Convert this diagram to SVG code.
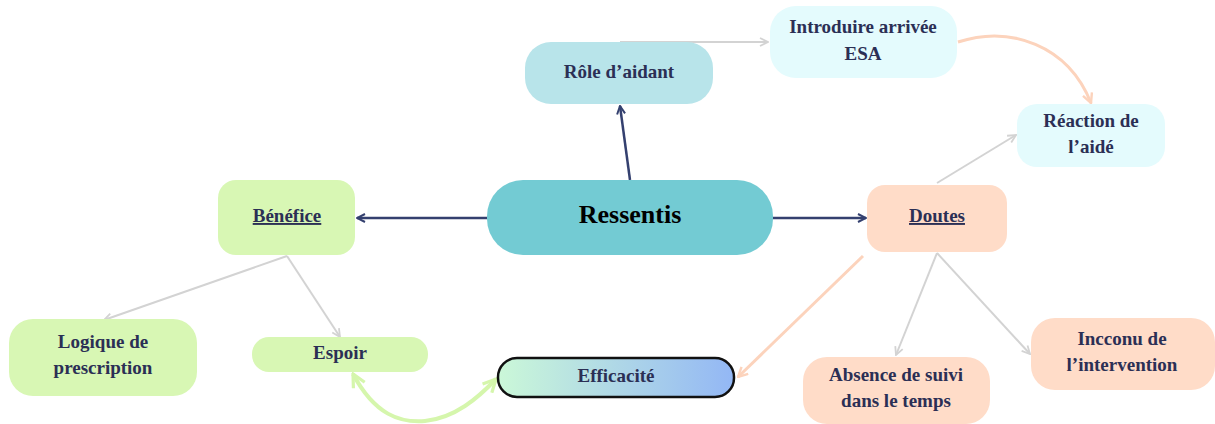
<svg xmlns="http://www.w3.org/2000/svg" width="1215" height="424" viewBox="0 0 1215 424">
<style>
text{font-family:"Liberation Serif","Times New Roman",serif;font-weight:bold;font-size:19px;fill:#2B2F55;text-anchor:middle}
.big{font-size:26px;fill:#000}
.u{text-decoration:underline}
.navy{stroke:#34406F;stroke-width:2.5;fill:none}
.gray{stroke:#D3D3D3;stroke-width:2;fill:none}
.peach{stroke:#FCD3BC;stroke-width:3;fill:none}
.green{stroke:#D5F6AC;stroke-width:4;fill:none}
.cyan{fill:#E4FBFD}
.grn{fill:#D8F7B4}
.pch{fill:#FFDCC8}
</style>
<defs>
<marker id="aN" viewBox="0 0 10 10" refX="9" refY="5" markerWidth="4" markerHeight="4" orient="auto-start-reverse" markerUnits="strokeWidth"><path d="M1,1 L9,5 L1,9" fill="none" stroke="#34406F" stroke-width="2"/></marker>
<marker id="aG" viewBox="0 0 10 10" refX="9" refY="5" markerWidth="5" markerHeight="5" orient="auto-start-reverse" markerUnits="strokeWidth"><path d="M1,1 L9,5 L1,9" fill="none" stroke="#D3D3D3" stroke-width="1.8"/></marker>
<marker id="aP" viewBox="0 0 10 10" refX="9" refY="5" markerWidth="4" markerHeight="4" orient="auto-start-reverse" markerUnits="strokeWidth"><path d="M1,1 L9,5 L1,9" fill="none" stroke="#FCD3BC" stroke-width="2"/></marker>
<marker id="aL" viewBox="0 0 10 10" refX="9" refY="5" markerWidth="4" markerHeight="4" orient="auto-start-reverse" markerUnits="strokeWidth"><path d="M1,1 L9,5 L1,9" fill="none" stroke="#D5F6AC" stroke-width="2"/></marker>
<linearGradient id="gEff" x1="0" y1="0" x2="1" y2="0"><stop offset="0" stop-color="#CBF8D8"/><stop offset="1" stop-color="#93B7F5"/></linearGradient>
</defs>
<rect width="1215" height="424" fill="#fff"/>
<g id="connectors">
<line class="navy" x1="630" y1="180" x2="620" y2="106" marker-end="url(#aN)"/>
<line class="navy" x1="487" y1="218" x2="357" y2="218" marker-end="url(#aN)"/>
<line class="navy" x1="773" y1="218" x2="866" y2="218" marker-end="url(#aN)"/>
<line class="gray" x1="620" y1="42" x2="768" y2="42" marker-end="url(#aG)"/>
<path class="peach" d="M958,42 C1010,25 1068,45 1091,103" marker-end="url(#aP)"/>
<line class="gray" x1="937" y1="183" x2="1016" y2="135" marker-end="url(#aG)"/>
<line class="gray" x1="287" y1="256" x2="104" y2="320" marker-end="url(#aG)"/>
<line class="gray" x1="287" y1="256" x2="340" y2="337" marker-end="url(#aG)"/>
<line class="peach" x1="863" y1="256" x2="738" y2="377" marker-end="url(#aP)"/>
<line class="gray" x1="937" y1="253" x2="896" y2="355" marker-end="url(#aG)"/>
<line class="gray" x1="937" y1="253" x2="1030" y2="354" marker-end="url(#aG)"/>
<path class="green" d="M353,374 C375,415 400,423 425,421 C455,418 478,398 496,379" marker-start="url(#aL)" marker-end="url(#aL)"/>
</g>
<g id="ressentis"><rect x="487" y="180" width="286" height="75" rx="36" fill="#73CBD3"/><text class="big" x="630" y="223">Ressentis</text></g>
<g id="role"><rect x="525" y="42" width="188" height="62" rx="26" fill="#B8E4EA"/><text x="619" y="78">Rôle d’aidant</text></g>
<g id="introduire"><rect class="cyan" x="770" y="6" width="187" height="72" rx="26"/><text x="863" y="33">Introduire arrivée</text><text x="863" y="60">ESA</text></g>
<g id="reaction"><rect class="cyan" x="1017" y="104" width="148" height="63" rx="20"/><text x="1091" y="127">Réaction de</text><text x="1091" y="153">l’aidé</text></g>
<g id="benefice"><rect class="grn" x="218" y="180" width="137" height="75" rx="18"/><text class="u" x="287" y="222">Bénéfice</text></g>
<g id="doutes"><rect class="pch" x="867" y="185" width="140" height="67" rx="18"/><text class="u" x="937" y="222">Doutes</text></g>
<g id="logique"><rect class="grn" x="9" y="319" width="188" height="77" rx="24"/><text x="103" y="348">Logique de</text><text x="103" y="374">prescription</text></g>
<g id="espoir"><rect class="grn" x="252" y="337" width="176" height="35" rx="17"/><text x="340" y="359">Espoir</text></g>
<g id="efficacite"><rect x="498" y="358" width="236" height="39" rx="19" fill="url(#gEff)" stroke="#111" stroke-width="2.5"/><text x="616" y="382">Efficacité</text></g>
<g id="absence"><rect class="pch" x="803" y="357" width="187" height="67" rx="24"/><text x="896" y="381">Absence de suivi</text><text x="896" y="407">dans le temps</text></g>
<g id="incconu"><rect class="pch" x="1031" y="318" width="184" height="72" rx="24"/><text x="1122" y="345">Incconu de</text><text x="1122" y="371">l’intervention</text></g>
</svg>
